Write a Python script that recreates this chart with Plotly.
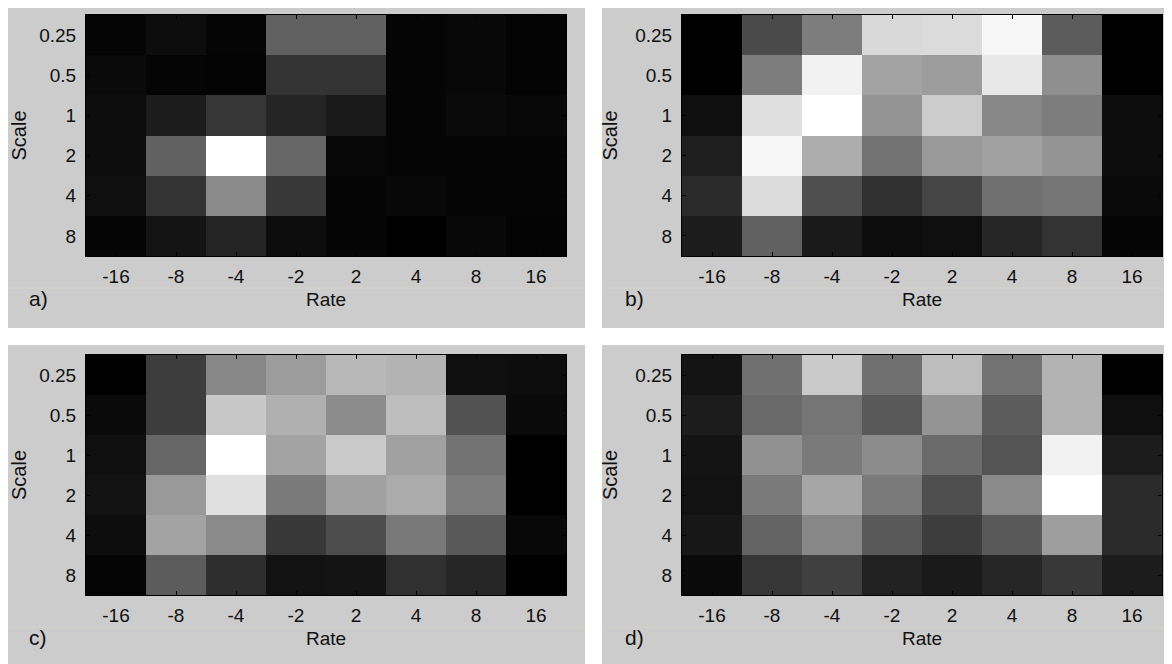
import plotly.graph_objects as go

# ------------------------------ data ------------------------------
rates = ['-16', '-8', '-4', '-2', '2', '4', '8', '16']
scales = ['0.25', '0.5', '1', '2', '4', '8']

# normalised response (0 = black, 1 = white), rows follow `scales`
resp_a = [
    [0.02, 0.05, 0.02, 0.38, 0.38, 0.02, 0.03, 0.01],
    [0.04, 0.02, 0.01, 0.20, 0.20, 0.02, 0.03, 0.01],
    [0.05, 0.11, 0.21, 0.14, 0.10, 0.02, 0.04, 0.03],
    [0.05, 0.38, 1.00, 0.40, 0.03, 0.02, 0.02, 0.02],
    [0.06, 0.20, 0.54, 0.22, 0.02, 0.03, 0.02, 0.02],
    [0.02, 0.08, 0.14, 0.05, 0.02, 0.00, 0.03, 0.01],
]
resp_b = [
    [0.00, 0.29, 0.49, 0.85, 0.86, 0.97, 0.36, 0.00],
    [0.00, 0.49, 0.95, 0.64, 0.61, 0.91, 0.56, 0.00],
    [0.06, 0.87, 1.00, 0.58, 0.80, 0.53, 0.49, 0.05],
    [0.12, 0.97, 0.68, 0.45, 0.60, 0.63, 0.58, 0.05],
    [0.17, 0.86, 0.31, 0.19, 0.27, 0.44, 0.46, 0.04],
    [0.11, 0.38, 0.10, 0.05, 0.06, 0.15, 0.20, 0.02],
]
resp_c = [
    [0.00, 0.24, 0.53, 0.61, 0.72, 0.70, 0.06, 0.05],
    [0.04, 0.24, 0.78, 0.69, 0.55, 0.74, 0.32, 0.04],
    [0.06, 0.40, 1.00, 0.64, 0.79, 0.63, 0.45, 0.00],
    [0.07, 0.60, 0.88, 0.48, 0.63, 0.67, 0.49, 0.00],
    [0.05, 0.64, 0.54, 0.22, 0.30, 0.47, 0.35, 0.03],
    [0.02, 0.36, 0.18, 0.07, 0.08, 0.19, 0.15, 0.00],
]
resp_d = [
    [0.08, 0.44, 0.79, 0.44, 0.74, 0.45, 0.70, 0.00],
    [0.11, 0.41, 0.46, 0.35, 0.58, 0.36, 0.70, 0.06],
    [0.08, 0.57, 0.48, 0.55, 0.42, 0.33, 0.95, 0.11],
    [0.07, 0.48, 0.65, 0.48, 0.31, 0.54, 1.00, 0.17],
    [0.09, 0.39, 0.53, 0.35, 0.24, 0.35, 0.62, 0.17],
    [0.04, 0.21, 0.25, 0.13, 0.10, 0.15, 0.22, 0.11],
]
panel_labels = ['a)', 'b)', 'c)', 'd)']

# ------------------------------ layout helpers ------------------------------
# the page body has an 8px margin, so the figure is drawn 8px smaller
# and every pixel position below is shifted back by that offset
OFF = 8
W, H = 1172 - OFF, 664 - OFF
FONT = dict(family='Liberation Sans, Arial, sans-serif', size=19, color='#111111')
BG = '#cccccc'

def px(x):
    return max(0, x - OFF) / W

def py(y):
    return 1 - min(H, max(0, y - OFF)) / H

# (gray box x0, x1, y0, y1), (heatmap x0, x1, y0, y1) in screen pixels
panels = [
    ((6, 585, 6, 328), (86, 566, 15, 256)),
    ((602, 1172, 6, 328), (682, 1162, 15, 256)),
    ((6, 585, 345, 664), (86, 566, 355, 595)),
    ((602, 1172, 345, 664), (682, 1162, 355, 595)),
]

fig = go.Figure()
shapes = []
annotations = []

for i, (resp, (box, hm)) in enumerate(zip([resp_a, resp_b, resp_c, resp_d], panels)):
    n = '' if i == 0 else str(i + 1)
    fig.add_trace(go.Heatmap(
        z=resp, x=rates, y=scales,
        colorscale=[[0, 'black'], [1, 'white']], zmin=0, zmax=1,
        showscale=False, xaxis='x' + n, yaxis='y' + n,
        hovertemplate='Rate %{x}<br>Scale %{y}<br>%{z:.2f}<extra></extra>'))

    bx0, bx1, by0, by1 = box
    hx0, hx1, hy0, hy1 = hm
    shapes.append(dict(type='rect', xref='paper', yref='paper', layer='below',
                       x0=px(bx0), x1=px(bx1), y0=py(by1), y1=py(by0),
                       fillcolor=BG, line=dict(width=0)))
    # faint separator line under the tick labels
    shapes.append(dict(type='line', xref='paper', yref='paper', layer='below',
                       x0=px(bx0), x1=px(bx1), y0=py(hy1 + 32), y1=py(hy1 + 32),
                       line=dict(color='#d8d3ca', width=1)))

    axis_common = dict(showline=True, linecolor='black', linewidth=1, mirror='ticks',
                       ticks='inside', ticklen=4, tickcolor='black', tickfont=FONT,
                       showgrid=False, zeroline=False, fixedrange=True)
    fig.update_layout(**{
        'xaxis' + n: dict(axis_common, domain=[px(hx0), px(hx1)], anchor='y' + n,
                          type='category', ticklabelstandoff=3,
                          title=dict(text='Rate', font=FONT, standoff=6)),
        'yaxis' + n: dict(axis_common, domain=[py(hy1), py(hy0)], anchor='x' + n,
                          type='category', autorange='reversed', ticklabelstandoff=5,
                          title=dict(text='Scale', font=dict(FONT, size=20), standoff=12)),
    })
    annotations.append(dict(text=panel_labels[i], xref='paper', yref='paper',
                            x=px(bx0 + 21), y=py(hy1 + 42), xanchor='left', yanchor='middle',
                            showarrow=False, font=dict(FONT, size=21)))

fig.update_layout(width=W, height=H, margin=dict(l=0, r=0, t=0, b=0),
                  paper_bgcolor='white', plot_bgcolor=BG,
                  shapes=shapes, annotations=annotations, showlegend=False)

fig.write_html('out.html')
